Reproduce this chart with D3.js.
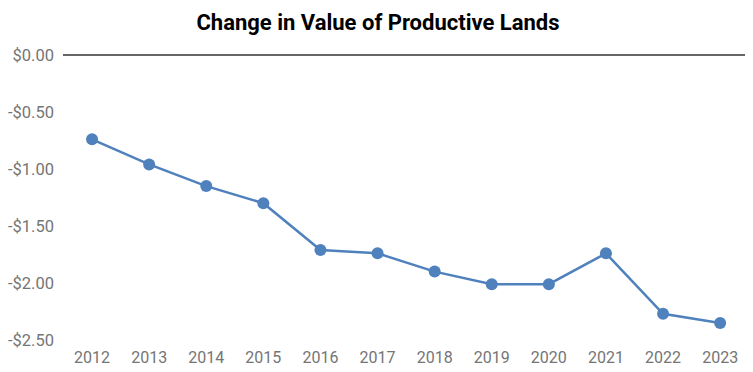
<!DOCTYPE html>
<html><head><meta charset="utf-8">
<script src="https://cdn.jsdelivr.net/npm/d3@7"></script>
<style>body{margin:0;background:#fff}svg{display:block}</style>
</head><body>
<svg id="c" width="753" height="372"></svg>
<script>
const years = ["2012","2013","2014","2015","2016","2017","2018","2019","2020","2021","2022","2023"];
const values = [-0.74,-0.96,-1.15,-1.30,-1.71,-1.74,-1.90,-2.01,-2.01,-1.74,-2.27,-2.35];
const yTicks = [0,-0.5,-1,-1.5,-2,-2.5];
const title = "Change in Value of Productive Lands";

const svg = d3.select("#c");
const font = "Roboto, 'Noto Sans', sans-serif";
const x = d3.scaleBand().domain(years).range([63.5, 748.7]);
const y = d3.scaleLinear().domain([-2.5, 0]).range([340, 55]);

svg.append("text").attr("x", 378).attr("y", 30).attr("text-anchor", "middle")
  .attr("font-family", font).attr("font-weight", "bold").attr("font-size", 22)
  .attr("fill", "#000").text(title);

const fmt = v => (v < 0 ? "-" : "") + "$" + Math.abs(v).toFixed(2);
const yAxis = svg.append("g").attr("transform", "translate(54,0)")
  .call(d3.axisLeft(y).tickValues(yTicks).tickFormat(fmt).tickSize(0).tickPadding(0));
yAxis.select(".domain").remove();
yAxis.selectAll("text").attr("font-family", font).attr("font-size", 16.5).attr("fill", "#757575").attr("dy", "0.35em");

const xAxis = svg.append("g").attr("transform", "translate(0,340)")
  .call(d3.axisBottom(x).tickSize(0).tickPadding(12));
xAxis.select(".domain").remove();
xAxis.selectAll("text").attr("font-family", font).attr("font-size", 16).attr("fill", "#757575");

svg.append("line").attr("x1", 63).attr("x2", 745).attr("y1", y(0)).attr("y2", y(0))
  .attr("stroke", "#333").attr("stroke-width", 1.3);

const cx = d => x(d) + x.bandwidth() / 2;
const data = years.map((yr, i) => ({yr, v: values[i]}));
svg.append("path").datum(data)
  .attr("d", d3.line().x(d => cx(d.yr)).y(d => y(d.v)))
  .attr("fill", "none").attr("stroke", "#4f81bd").attr("stroke-width", 2.5);
svg.selectAll("circle.pt").data(data).enter().append("circle")
  .attr("cx", d => cx(d.yr)).attr("cy", d => y(d.v)).attr("r", 6)
  .attr("fill", "#4f81bd");
</script>
</body></html>
